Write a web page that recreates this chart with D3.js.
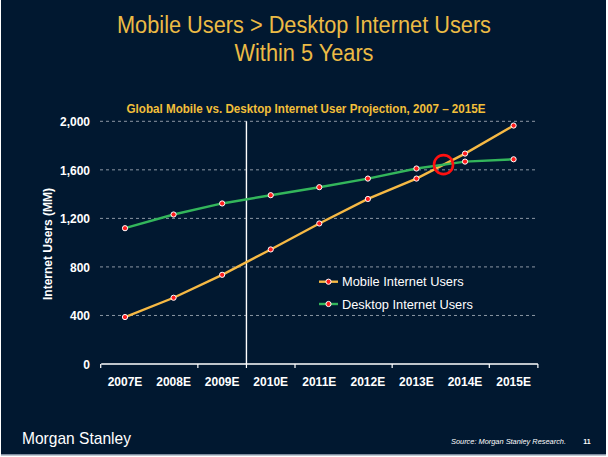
<!DOCTYPE html>
<html>
<head>
<meta charset="utf-8">
<script src="https://cdn.jsdelivr.net/npm/d3@7/dist/d3.min.js"></script>
<style>
  html, body { margin: 0; padding: 0; background: #ffffff; }
  svg { display: block; }
</style>
</head>
<body>
<svg id="chart" width="608" height="457"></svg>
<script>
// ---- Data ----
const years = ["2007E", "2008E", "2009E", "2010E", "2011E", "2012E", "2013E", "2014E", "2015E"];
const mobileUsers = [387, 546, 735, 944, 1158, 1360, 1528, 1734, 1965];
const desktopUsers = [1119, 1232, 1323, 1391, 1457, 1528, 1611, 1668, 1687];
const yTicks = [0, 400, 800, 1200, 1600, 2000];
const xTickBoundaries = [-0.5, 1.5, 2.5, 3.5, 5.5, 7.5, 8.5];
const dividerAt = 2.5;
const seriesNames = ["Mobile Internet Users", "Desktop Internet Users"];
const titleLines = ["Mobile Users > Desktop Internet Users", "Within 5 Years"];
const subtitle = "Global Mobile vs. Desktop Internet User Projection, 2007 \u2013 2015E";
const yTitle = "Internet Users (MM)";
const source = "Source: Morgan Stanley Research.";
const brand = "Morgan Stanley";
const pageNo = "11";

// ---- Styles ----
const BG = "#011830";
const GOLD = "#ecbb45";
const ORANGE = "#f6b944";
const GREEN = "#33b65b";
const GRID = "#8c97a4";
const FONT = "'Liberation Sans', Arial, sans-serif";

const svg = d3.select("#chart");
svg.append("rect").attr("x", 0).attr("y", 0).attr("width", 608).attr("height", 457).attr("fill", "#ffffff");
svg.append("rect").attr("x", 1).attr("y", 0).attr("width", 605).attr("height", 454).attr("fill", BG);
svg.append("rect").attr("x", 1).attr("y", 454).attr("width", 605).attr("height", 1.5).attr("fill", "#7f8ea0");

// ---- Scales ----
const x = d3.scaleLinear().domain([0, years.length - 1]).range([125, 513.6]);
const y = d3.scaleLinear().domain([0, 2000]).range([364, 121.3]);
const plotLeft = 100, plotRight = 538;

// ---- Titles ----
const titleWidths = [374, 139];
svg.selectAll("text.title").data(titleLines).enter().append("text")
  .attr("class", "title")
  .attr("x", 304).attr("y", (d, i) => 32.5 + i * 28)
  .attr("text-anchor", "middle")
  .attr("font-family", FONT).attr("font-size", 23.5)
  .attr("textLength", (d, i) => titleWidths[i]).attr("lengthAdjust", "spacingAndGlyphs")
  .attr("fill", GOLD)
  .text(d => d);

svg.append("text")
  .attr("x", 306).attr("y", 112.8)
  .attr("text-anchor", "middle")
  .attr("font-family", FONT).attr("font-size", 12.4).attr("font-weight", "bold")
  .attr("textLength", 359).attr("lengthAdjust", "spacingAndGlyphs")
  .attr("fill", "#f2bf3a")
  .text(subtitle);

// ---- Gridlines ----
const grid = svg.append("g");
grid.selectAll("line").data(yTicks.filter(t => t > 0)).enter().append("line")
  .attr("x1", plotLeft).attr("x2", plotRight)
  .attr("y1", d => y(d)).attr("y2", d => y(d))
  .attr("stroke", GRID).attr("stroke-width", 1)
  .attr("stroke-dasharray", "3,3");

// ---- Y axis labels ----
const yAxis = d3.axisLeft(y).tickValues(yTicks).tickSize(0).tickPadding(0).tickFormat(d3.format(","));
const yg = svg.append("g").attr("transform", "translate(90,0)").call(yAxis);
yg.select(".domain").remove();
yg.selectAll("text")
  .attr("font-family", FONT).attr("font-size", 12).attr("font-weight", "bold")
  .attr("fill", "#ffffff").attr("dy", "0.35em");

svg.append("text")
  .attr("transform", "translate(52,244) rotate(-90)")
  .attr("text-anchor", "middle")
  .attr("font-family", FONT).attr("font-size", 12).attr("font-weight", "bold")
  .attr("fill", "#ffffff")
  .text(yTitle);

// ---- X axis ----
svg.append("line")
  .attr("x1", x(xTickBoundaries[0]) + 0.5).attr("x2", x(xTickBoundaries[xTickBoundaries.length - 1]))
  .attr("y1", y(0)).attr("y2", y(0))
  .attr("stroke", "#ffffff").attr("stroke-width", 1.3);
svg.selectAll("line.xtick").data(xTickBoundaries).enter().append("line")
  .attr("class", "xtick")
  .attr("x1", d => x(d)).attr("x2", d => x(d))
  .attr("y1", y(0)).attr("y2", y(0) + 4)
  .attr("stroke", "#ffffff").attr("stroke-width", 1.2);
svg.selectAll("text.xlab").data(years).enter().append("text")
  .attr("class", "xlab")
  .attr("x", (d, i) => x(i)).attr("y", 386)
  .attr("text-anchor", "middle")
  .attr("font-family", FONT).attr("font-size", 12).attr("font-weight", "bold")
  .attr("fill", "#ffffff")
  .text(d => d);

// ---- Divider ----
svg.append("line")
  .attr("x1", x(dividerAt)).attr("x2", x(dividerAt))
  .attr("y1", y(2000)).attr("y2", y(0))
  .attr("stroke", "#ffffff").attr("stroke-width", 1.4);

// ---- Series ----
const series = [
  { name: seriesNames[0], values: mobileUsers, color: ORANGE },
  { name: seriesNames[1], values: desktopUsers, color: GREEN }
];
const line = d3.line().x((d, i) => x(i)).y(d => y(d));
series.forEach(s => {
  svg.append("path")
    .attr("d", line(s.values))
    .attr("fill", "none").attr("stroke", s.color).attr("stroke-width", 2.4);
});
series.forEach(s => {
  svg.append("g").selectAll("circle").data(s.values).enter().append("circle")
    .attr("cx", (d, i) => x(i)).attr("cy", d => y(d)).attr("r", 2.6)
    .attr("fill", "#ff1c1c").attr("stroke", "#ffffff").attr("stroke-width", 1);
});

// ---- Crossover circle (computed from data) ----
let cross = null;
for (let i = 0; i < years.length - 1 && !cross; i++) {
  const d0 = desktopUsers[i] - mobileUsers[i];
  const d1 = desktopUsers[i + 1] - mobileUsers[i + 1];
  if (d0 > 0 && d1 <= 0) {
    const t = d0 / (d0 - d1);
    cross = { xi: i + t, v: mobileUsers[i] + t * (mobileUsers[i + 1] - mobileUsers[i]) };
  }
}
if (cross) {
  svg.append("circle")
    .attr("cx", x(cross.xi)).attr("cy", y(cross.v)).attr("r", 9.5)
    .attr("fill", "none").attr("stroke", "#ff1010").attr("stroke-width", 2.6);
}

// ---- Legend ----
const legend = svg.append("g");
series.forEach((s, i) => {
  const ly = 281.7 + i * 22.3;
  legend.append("line")
    .attr("x1", 319).attr("x2", 338).attr("y1", ly).attr("y2", ly)
    .attr("stroke", s.color).attr("stroke-width", 2.4);
  legend.append("circle")
    .attr("cx", 328.5).attr("cy", ly).attr("r", 2.6)
    .attr("fill", "#ff1c1c").attr("stroke", "#ffffff").attr("stroke-width", 1);
  legend.append("text")
    .attr("x", 342).attr("y", ly).attr("dy", "0.36em")
    .attr("font-family", FONT).attr("font-size", 12.8)
    .attr("fill", "#ffffff")
    .text(s.name);
});

// ---- Footer ----
svg.append("text")
  .attr("x", 22).attr("y", 444)
  .attr("font-family", FONT).attr("font-size", 17)
  .attr("textLength", 109).attr("lengthAdjust", "spacingAndGlyphs")
  .attr("fill", "#ffffff")
  .text(brand);
svg.append("text")
  .attr("x", 451).attr("y", 444)
  .attr("font-family", FONT).attr("font-size", 7.4).attr("font-style", "italic")
  .attr("fill", "#ffffff")
  .text(source);
svg.append("text")
  .attr("x", 587).attr("y", 444)
  .attr("text-anchor", "middle")
  .attr("font-family", FONT).attr("font-size", 7).attr("font-weight", "bold")
  .attr("fill", "#ffffff")
  .text(pageNo);
</script>
</body>
</html>
